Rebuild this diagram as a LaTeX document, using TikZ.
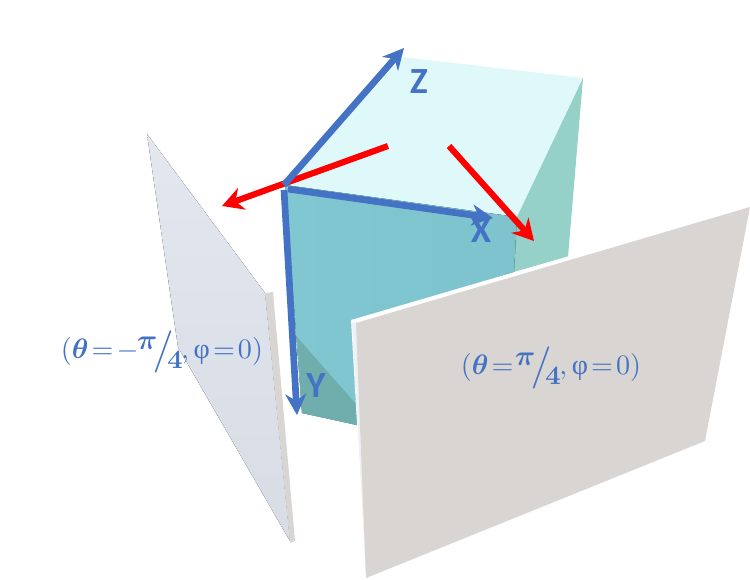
\documentclass[tikz,border=0pt]{standalone}
\usepackage{amsmath}
\usepackage{fontspec}
\usetikzlibrary{arrows.meta}
\newfontfamily\labelfont{Carlito}
\newfontfamily\greekfont{Liberation Serif}
\definecolor{axisblue}{HTML}{4472C4}
\definecolor{topface}{HTML}{DFF9FA}
\definecolor{sideface}{HTML}{95D0C9}
\definecolor{frontface}{HTML}{80C7D2}
\definecolor{shadeface}{HTML}{6FAEAC}
\definecolor{plategrey}{HTML}{D9D5D2}
\definecolor{plateblue}{HTML}{DEE3EC}
\newcommand{\anglelabel}[1]{\thickmuskip=2mu\medmuskip=0mu$(\boldsymbol{\theta}={#1}\mspace{-1mu}\raisebox{0.75ex}{$\boldsymbol{\pi}$}\mspace{-3mu}\raisebox{-0.3ex}{\scalebox{1.5}{$/$}}\mspace{-4mu}\raisebox{-0.75ex}{\scalebox{0.95}{$\boldsymbol{4}$}}\mspace{-1mu},\text{\greekfont φ}=0)$}
\begin{document}
\begin{tikzpicture}[x=0.02cm, y=-0.02cm]
            \tikzset{axis/.style={line width=3.8pt, axisblue, -{Stealth[length=12pt, width=12pt]}}}
            \tikzset{ray/.style={line width=3.5pt, red, -{Stealth[length=12pt, width=13pt]}}}
            \tikzset{axislabel/.style={axisblue, font=\labelfont\bfseries\fontsize{21}{21}\selectfont}}
            \tikzset{anglenode/.style={text=axisblue, scale=1.6}}
            \useasboundingbox (0,0) rectangle (750,579);
            % cube
            \fill [topface] (285,185) -- (403,57) -- (583,78) -- (517,217) -- cycle;
            \fill [sideface] (583,78) -- (517,217) -- (514,272) -- (568,257) -- cycle;
            \fill [left color=frontface, right color=frontface!98!black] (285,185) -- (517,217) -- (514,272) -- (352,323) -- (357,425) -- (302,413) -- cycle;
            \fill [shadeface] (297,337) -- (356,404) -- (357,425) -- (302,413) -- cycle;
            % left plate
            \fill [top color=plateblue!85!white, bottom color=plateblue!97!black] (147,134) -- (265,293) -- (290,541) -- (178,347) -- cycle;
            \fill [plategrey] (265,293) -- (273,292) -- (295,541) -- (290,543) -- cycle;
            % right plate
            \fill [white] (351,320) -- (750,203) -- (750,207) -- (366,579) -- cycle;
            \fill [plateblue!50!white] (352,323) -- (357,322) -- (369,577) -- (366,578) -- cycle;
            \fill [plategrey] (356,323) -- (750,207) -- (705,441) -- (366,578) -- cycle;
            % axes and rays
            \coordinate (origin) at (284,185);
            \coordinate (xEnd) at (493,218);
            \coordinate (yEnd) at (297,415);
            \coordinate (zEnd) at (404,48);
            \coordinate (rayAStart) at (388,146);
            \coordinate (rayAEnd) at (222,206);
            \coordinate (rayBStart) at (449,146);
            \coordinate (rayBEnd) at (534,241);
            \draw [ray] (rayAStart) -- (rayAEnd);
            \draw [ray] (rayBStart) -- (rayBEnd);
            \draw [axis] (origin) -- (zEnd);
            \draw [axis] (origin) ++(4,4) -- (xEnd);
            \draw [axis] (origin) ++(0,5) -- (yEnd);
            \node [axislabel] (labelZ) at (419,82) {Z};
            \node [axislabel] (labelX) at (481,231) {X};
            \node [axislabel] (labelY) at (316,386) {Y};
            \node [anglenode] (labelLeft) at (162,352) {\anglelabel{-}};
            \node [anglenode] (labelRight) at (551,368) {\anglelabel{}};
        \end{tikzpicture}
\end{document}
